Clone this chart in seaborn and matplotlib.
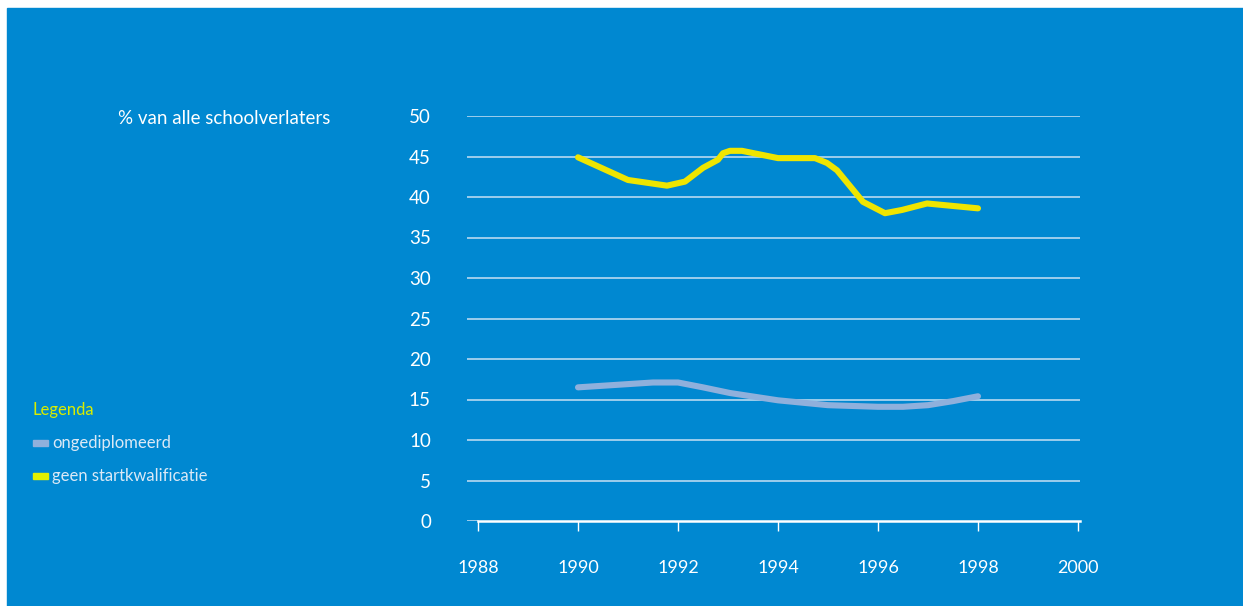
import matplotlib
matplotlib.use("Agg")
import matplotlib.pyplot as plt
from matplotlib.patches import Rectangle
import pandas as pd
import seaborn as sns

# geen startkwalificatie (yellow line)
jaar_start = [1990, 1991, 1991.78, 1992.14, 1992.5, 1992.8, 1992.9, 1993.04, 1993.28,
              1994, 1994.74, 1994.98, 1995.18, 1995.7, 1996.14, 1996.48, 1996.98, 1998]
pct_start = [44.9, 42.1, 41.4, 41.9, 43.6, 44.6, 45.4, 45.7, 45.7,
             44.8, 44.8, 44.2, 43.3, 39.4, 38.0, 38.4, 39.2, 38.6]

# ongediplomeerd (grey-blue line)
jaar_ongedipl = [1990, 1991, 1991.5, 1992, 1992.5, 1993.04, 1994, 1995, 1996, 1996.5,
                 1997, 1997.5, 1998]
pct_ongedipl = [16.5, 16.9, 17.1, 17.1, 16.5, 15.8, 14.9, 14.3, 14.1, 14.1,
                14.3, 14.8, 15.4]

y_ticks = [0, 5, 10, 15, 20, 25, 30, 35, 40, 45, 50]
x_ticks = [1988, 1990, 1992, 1994, 1996, 1998, 2000]

BG = "#0088d1"
YELLOW = "#efe500"
GREYBLUE = "#8fb0dc"
GRID = "#a9d3ee"

df = pd.concat([
    pd.DataFrame({"jaar": jaar_ongedipl, "pct": pct_ongedipl, "reeks": "ongediplomeerd"}),
    pd.DataFrame({"jaar": jaar_start, "pct": pct_start, "reeks": "geen startkwalificatie"}),
])

sns.set_style("white")
plt.rcParams["font.family"] = ["Lato", "DejaVu Sans"]

fig = plt.figure(figsize=(12.43, 6.06), dpi=100, facecolor="white")
fig.patches.append(Rectangle((7 / 1243, 0), 1 - 7 / 1243, 1 - 8 / 606,
                             transform=fig.transFigure, color=BG, zorder=-10))

ax = fig.add_axes([467 / 1243, 1 - 521 / 606, (1080 - 467) / 1243, (521 - 116) / 606])
ax.set_facecolor("none")

sns.lineplot(data=df, x="jaar", y="pct", hue="reeks", sort=False,
             palette={"ongediplomeerd": GREYBLUE, "geen startkwalificatie": YELLOW},
             linewidth=4.4, legend=False, ax=ax, zorder=3)

ax.set_xlim(1987.78, 2000.04)
ax.set_ylim(0, 50)
ax.set_yticks(y_ticks)
ax.set_xticks(x_ticks)
ax.set_xlabel("")
ax.set_ylabel("")
for y in y_ticks[1:]:
    ax.axhline(y, color=GRID, linewidth=1.3, zorder=1)
ax.plot([1987.78, 1988], [0, 0], color=GRID, linewidth=1.3, zorder=1)

for s in ["top", "right", "left"]:
    ax.spines[s].set_visible(False)
ax.spines["bottom"].set_color("white")
ax.spines["bottom"].set_linewidth(1.8)
ax.spines["bottom"].set_bounds(1988, 2000.04)

ax.tick_params(axis="x", bottom=True, colors="white", direction="out", length=7,
               width=1, pad=21, labelsize=13)
ax.tick_params(axis="y", left=False, colors="white", length=0, pad=26, labelsize=13.5)

fig.text(118 / 1243, 1 - 118 / 606, "% van alle schoolverlaters", color="white",
         fontsize=13.5, ha="left", va="center")

# legend
fig.text(33 / 1243, 1 - 410 / 606, "Legenda", color="#d9ec00", fontsize=12,
         ha="left", va="center")
for ypix, col, lab in [(443, GREYBLUE, "ongediplomeerd"),
                       (476, "#e2f000", "geen startkwalificatie")]:
    fig.patches.append(Rectangle((33 / 1243, 1 - (ypix + 3) / 606), 15 / 1243, 6 / 606,
                                 transform=fig.transFigure, color=col, zorder=2))
    fig.text(52 / 1243, 1 - ypix / 606, lab, color="#dbe9f6", fontsize=12,
             ha="left", va="center")

fig.savefig("out.png", dpi=100, facecolor=fig.get_facecolor())
